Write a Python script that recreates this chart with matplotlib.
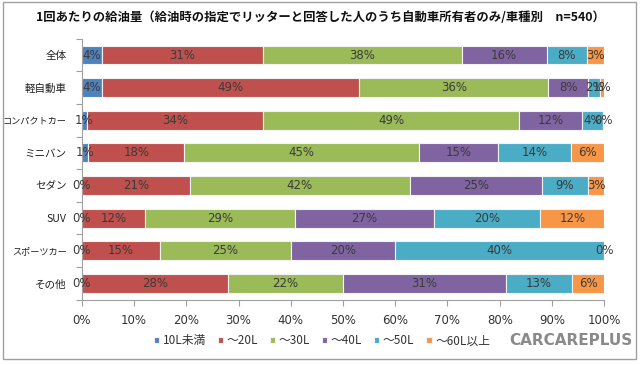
import matplotlib
matplotlib.use("Agg")
import matplotlib.pyplot as plt
from matplotlib.patches import Rectangle
import numpy as np

plt.rcParams['font.family'] = ['Noto Sans CJK JP', 'DejaVu Sans']

title = "1回あたりの給油量（給油時の指定でリッターと回答した人のうち自動車所有者のみ/車種別　n=540）"
categories = ["全体", "軽自動車", "コンパクトカー", "ミニバン", "セダン", "SUV", "スポーツカー", "その他"]
series_names = ["10L未満", "～20L", "～30L", "～40L", "～50L", "～60L以上"]
colors = ["#4F81BD", "#C0504D", "#9BBB59", "#8064A2", "#4BACC6", "#F79646"]

s_10 = [3.8, 3.8, 0.9, 1.2, 0.0, 0.0, 0.0, 0.0]
s_20 = [30.8, 49.3, 33.8, 18.4, 20.6, 12.1, 14.9, 28.0]
s_30 = [38.1, 36.2, 49.0, 45.0, 42.2, 28.7, 25.1, 22.0]
s_40 = [16.3, 7.6, 12.1, 15.1, 25.3, 26.6, 20.0, 31.2]
s_50 = [7.7, 2.3, 4.0, 14.0, 8.8, 20.4, 40.0, 12.6]
s_60 = [3.3, 0.8, 0.2, 6.3, 3.1, 12.2, 0.0, 6.2]
series = [s_10, s_20, s_30, s_40, s_50, s_60]

xticks = [0, 10, 20, 30, 40, 50, 60, 70, 80, 90, 100]
xticklabels = [f"{t}%" for t in xticks]

fig = plt.figure(figsize=(6.4, 3.65), dpi=100)
ax = fig.add_axes([0.128, 0.179, 0.816, 0.715])

y = np.arange(len(categories))
left = np.zeros(len(categories))
for vals, name, col in zip(series, series_names, colors):
    vals = np.array(vals)
    ax.barh(y, vals, left=left, height=0.58, color=col, edgecolor="#f2f2f2",
            linewidth=0.8, label=name)
    for yi, (l, v) in enumerate(zip(left, vals)):
        ax.text(l + v / 2, yi, f"{v:.0f}%", ha="center", va="center",
                fontsize=8.5, color="#3a3a3a", family=['DejaVu Sans'])
    left += vals

ax.set_xlim(0, 100)
ax.set_ylim(len(categories) - 0.5, -0.5)
ax.set_yticks(y)
ax.set_yticklabels(categories, color="#222222")
for lab in ax.get_yticklabels():
    txt = lab.get_text()
    lab.set_fontsize(6.6 if len(txt) >= 6 else 7.6)
ax.set_yticks(np.arange(len(categories) + 1) - 0.5, minor=True)
ax.tick_params(axis="y", which="major", length=0, pad=11)
ax.tick_params(axis="y", which="minor", length=4, color="#a0a0a0", width=0.8)
ax.set_xticks(xticks)
ax.set_xticklabels(xticklabels, fontsize=8.5, color="#333333", family=['DejaVu Sans'])
ax.tick_params(axis="x", length=4, color="#a0a0a0", width=0.8, pad=6)
for s in ["top", "right"]:
    ax.spines[s].set_visible(False)
for s in ["left", "bottom"]:
    ax.spines[s].set_color("#a0a0a0")
    ax.spines[s].set_linewidth(0.8)

fig.text(0.5, 0.951, title, ha="center", va="center", fontsize=8.9, fontweight="bold",
         color="#111111")

leg = fig.legend(loc="center", bbox_to_anchor=(0.503, 0.066), ncol=6, frameon=False,
                 fontsize=8.5, handlelength=0.45, handleheight=0.45, handletextpad=0.3,
                 columnspacing=1.0)
for t in leg.get_texts():
    t.set_color("#333333")

fig.text(0.988, 0.066, "CARCAREPLUS", ha="right", va="center", fontsize=11,
         fontweight="bold", color="#8a8a8a", family=['DejaVu Sans'])

fig.patches.append(Rectangle((0.004, 0.016), 0.99, 0.978, transform=fig.transFigure,
                             fill=False, edgecolor="#a0a0a0", linewidth=1.0))

fig.savefig("out.png", dpi=100, facecolor="white")
